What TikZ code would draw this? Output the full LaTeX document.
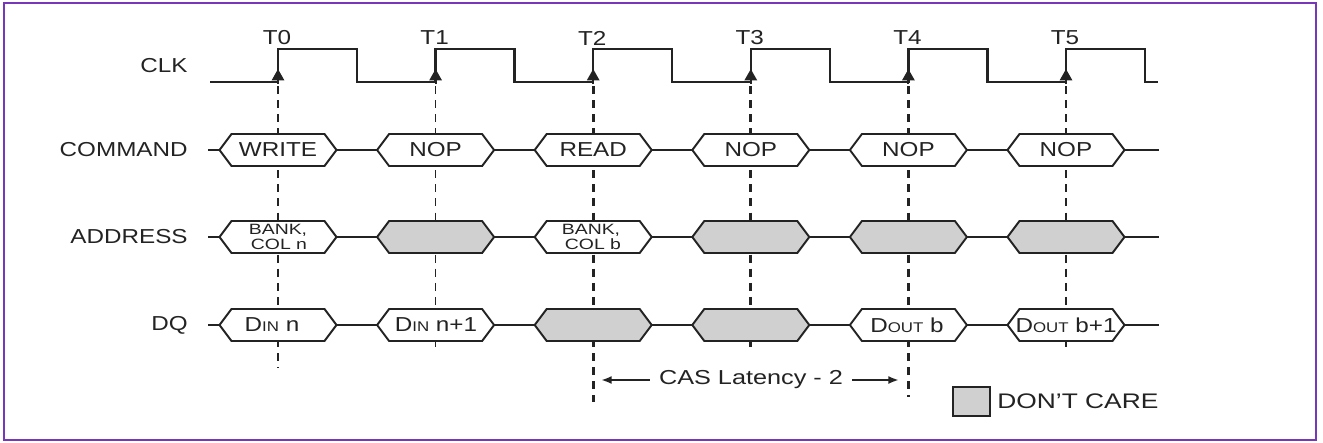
\documentclass[tikz,border=0pt]{standalone}
\usepackage{graphicx}
\usepackage{fontspec}
\setmainfont{Liberation Sans}
\usetikzlibrary{arrows.meta}
\usetikzlibrary{positioning}

\definecolor{framecol}{RGB}{120,55,185}
\definecolor{dcgray}{RGB}{208,208,208}
\definecolor{ink}{RGB}{35,35,35}

% text in the reference is set wide
\newcommand{\wide}[2][1.2]{\scalebox{#1}[1]{#2}}
\newcommand{\subcaps}[1]{{\fontsize{8}{8}\selectfont #1}}

\begin{document}
\begin{tikzpicture}[
    x=0.02cm, y=-0.02cm,
    sig/.style={draw=ink, line width=1.4pt},
    busline/.style={draw=ink, line width=1.2pt},
    bus/.style={draw=ink, line width=1.1pt, fill=white},
    dc/.style={bus, fill=dcgray},
    guide/.style={draw=ink, line width=1pt, dash pattern=on 4.5pt off 3.5pt},
    guidebold/.style={guide, line width=1.7pt},
    lbl/.style={inner sep=0pt, text=ink, font=\fontsize{11.5}{13}\selectfont},
    bankfont/.style={inner sep=0pt, text=ink, font=\fontsize{8.5}{9}\selectfont}
]
\useasboundingbox (0,0) rectangle (1323,443);
\draw[framecol, line width=1.4pt] (4,3) rectangle (1316,440);

% row labels
\node[lbl, anchor=east] (clk) at (188,65.5) {\wide{CLK}};
\node[lbl, anchor=east] (command) at (188,150) {\wide{COMMAND}};
\node[lbl, anchor=east] (address) at (188,237) {\wide{ADDRESS}};
\node[lbl, anchor=east] (dq) at (188,325) {\wide{DQ}};

% clock edges T0..T5
\foreach \i in {0,...,5}
    \node[lbl] (t\i) at ({277+157.6*\i},38) {\wide{T\i}};

% guide lines from the rising edges
\foreach \i/\e/\s in {0/368/guide,1/352/guide,2/402/guidebold,3/352/guidebold,4/397/guidebold,5/352/guide}
    \draw[\s] ({278+157.6*\i},86) -- ({278+157.6*\i},\e);

% clock
\draw[sig] (210,82) \foreach \i in {0,...,5} {
    -- ({278+157.6*\i},82) -- ({278+157.6*\i},49)
    -- ({357+157.6*\i},49) -- ({357+157.6*\i},82) } -- (1158,82);
\foreach \i in {0,...,5}
    \draw[ink, line width=1.2pt, -{Triangle[length=6.5pt,width=7pt]}] ({278+157.6*\i},84) -- ({278+157.6*\i},69);

% bus lines
\foreach \y in {150,237,325}
    \draw[busline] (208,\y) -- (1159,\y);

% COMMAND
\foreach \i/\txt in {0/WRITE,1/NOP,2/READ,3/NOP,4/NOP,5/NOP} {
    \pgfmathsetmacro{\c}{278+157.6*\i}
    \draw[bus] (\c-58.5,150) -- (\c-46.5,134) -- (\c+46.5,134)
        -- (\c+58.5,150) -- (\c+46.5,166) -- (\c-46.5,166) -- cycle;
    \node[lbl] (cmd\i) at (\c,150) {\wide{\txt}};
}

% ADDRESS
\foreach \i/\s in {0/bus,1/dc,2/bus,3/dc,4/dc,5/dc} {
    \pgfmathsetmacro{\c}{278+157.6*\i}
    \draw[\s] (\c-58.5,237) -- (\c-46.5,221) -- (\c+46.5,221)
        -- (\c+58.5,237) -- (\c+46.5,253) -- (\c-46.5,253) -- cycle;
}
\node[bankfont] (bankn) at (278,230) {\wide[1.3]{BANK,}};
\node[bankfont] (coln) at (279,244) {\wide[1.3]{COL n}};
\node[bankfont] (bankb) at (591,230) {\wide[1.3]{BANK,}};
\node[bankfont] (colb) at (593,244) {\wide[1.3]{COL b}};

% DQ
\foreach \i/\s in {0/bus,1/bus,2/dc,3/dc,4/bus,5/bus} {
    \pgfmathsetmacro{\c}{278+157.6*\i}
    \draw[\s] (\c-58.5,325) -- (\c-46.5,309) -- (\c+46.5,309)
        -- (\c+58.5,325) -- (\c+46.5,341) -- (\c-46.5,341) -- cycle;
}
\node[lbl] (din0) at (272,325) {\wide{D\subcaps{IN} n}};
\node[lbl] (din1) at (436,325) {\wide{D\subcaps{IN} n+1}};
\node[lbl] (dout0) at (907,325) {\wide{D\subcaps{OUT} b}};
\node[lbl] (dout1) at (1066,325) {\wide{D\subcaps{OUT} b+1}};

% CAS latency
\node[lbl, inner sep=5pt] (cas) at (751,380) {\wide[1.25]{CAS Latency - 2}};
\coordinate (casl) at (601,380);
\coordinate (casr) at (899,380);
\draw[ink, line width=1.2pt, -{Latex[length=6pt,width=4.5pt]}] (cas.west) -- (casl);
\draw[ink, line width=1.2pt, -{Latex[length=6pt,width=4.5pt]}] (cas.east) -- (casr);

% legend
\draw[dc] (953,387) rectangle (990,416);
\node[lbl, anchor=west, font=\fontsize{12}{14}\selectfont] (dontcare) at (997,401.5) {\wide[1.25]{DON'T CARE}};
\end{tikzpicture}
\end{document}
